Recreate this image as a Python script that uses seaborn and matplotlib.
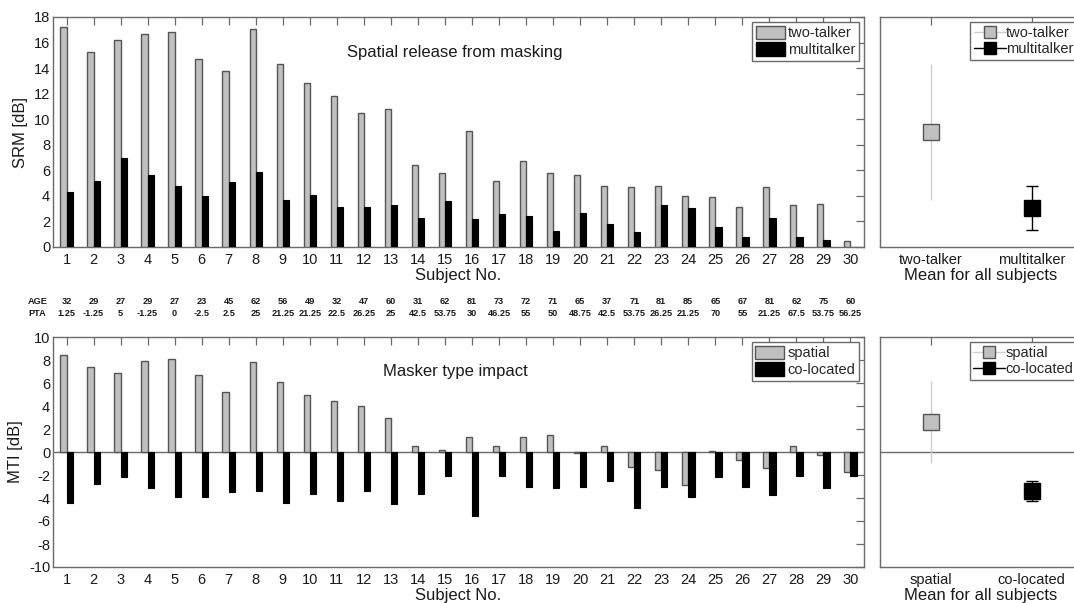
import numpy as np
import pandas as pd
import matplotlib
matplotlib.use("Agg")
import matplotlib.pyplot as plt
from matplotlib.patches import Patch
from matplotlib.lines import Line2D
from matplotlib.transforms import blended_transform_factory
import seaborn as sns

# ---- data -------------------------------------------------------------
subjects = list(range(1, 31))

srm_two_talker = [17.2, 15.3, 16.2, 16.7, 16.8, 14.7, 13.8, 17.1, 14.3, 12.8,
                  11.8, 10.5, 10.8, 6.4, 5.8, 9.1, 5.2, 6.7, 5.8, 5.6,
                  4.8, 4.7, 4.8, 4.0, 3.9, 3.1, 4.7, 3.3, 3.4, 0.5]
srm_multitalker = [4.3, 5.2, 7.0, 5.6, 4.8, 4.0, 5.1, 5.9, 3.7, 4.1,
                   3.1, 3.1, 3.3, 2.3, 3.6, 2.2, 2.55, 2.4, 1.25, 2.65,
                   1.8, 1.15, 3.3, 3.05, 1.55, 0.75, 2.3, 0.75, 0.55, 0.0]

mti_spatial = [8.4, 7.4, 6.9, 7.9, 8.1, 6.7, 5.2, 7.85, 6.1, 5.0,
               4.4, 4.0, 3.0, 0.5, 0.15, 1.3, 0.55, 1.3, 1.5, -0.05,
               0.5, -1.3, -1.6, -2.9, 0.1, -0.7, -1.35, 0.5, -0.25, -1.7]
mti_colocated = [-4.45, -2.75, -2.2, -3.15, -3.9, -3.95, -3.45, -3.35, -4.45, -3.65,
                 -4.25, -3.35, -4.55, -3.65, -2.05, -5.6, -2.1, -3.05, -3.15, -3.05,
                 -2.55, -4.85, -3.05, -3.95, -2.2, -3.05, -3.75, -2.1, -3.15, -2.05]

age = [32, 29, 27, 29, 27, 23, 45, 62, 56, 49, 32, 47, 60, 31, 62,
       81, 73, 72, 71, 65, 37, 71, 81, 85, 65, 67, 81, 62, 75, 60]
pta = [1.25, -1.25, 5, -1.25, 0, -2.5, 2.5, 25, 21.25, 21.25, 22.5, 26.25, 25, 42.5, 53.75,
       30, 46.25, 55, 50, 48.75, 42.5, 53.75, 26.25, 21.25, 70, 55, 21.25, 67.5, 53.75, 56.25]

srm_groups = ["two-talker", "multitalker"]
srm_means = [9.0, 3.05]
srm_sd = [5.3, 1.73]

mti_groups = ["spatial", "co-located"]
mti_means = [2.6, -3.38]
mti_sd = [3.55, 0.87]

# ---- style ------------------------------------------------------------
sns.set_style("white")
plt.rcParams["font.family"] = ["Liberation Sans", "DejaVu Sans"]
plt.rcParams["axes.unicode_minus"] = False

GRAY = "#c0c0c0"
EDGE = "#555555"
SPINE = "#6a6a6a"
TXT = "#1a1a1a"

W, H = 1074, 603
fig = plt.figure(figsize=(W / 100, H / 100), dpi=100)


def box(x0, y0, x1, y1):
    return [x0 / W, 1 - y1 / H, (x1 - x0) / W, (y1 - y0) / H]


ax_srm = fig.add_axes(box(53, 17, 864, 247))
ax_srm_m = fig.add_axes(box(880, 17, 1082, 247))
ax_mti = fig.add_axes(box(53, 337, 864, 567))
ax_mti_m = fig.add_axes(box(880, 337, 1082, 567))


def style_axes(ax):
    for s in ax.spines.values():
        s.set_color(SPINE)
        s.set_linewidth(1.0)
        s.set_visible(True)
    ax.tick_params(direction="in", top=True, right=True, length=6, width=0.9,
                   color=SPINE, labelsize=10.5, labelcolor=TXT)
    ax.tick_params(axis="x", pad=4)
    ax.tick_params(axis="y", pad=2)


def subject_bars(ax, a, b, names, ycol):
    df = pd.DataFrame({
        "subject": subjects * 2,
        ycol: list(a) + list(b),
        "group": [names[0]] * len(a) + [names[1]] * len(b),
    })
    sns.barplot(data=df, x="subject", y=ycol, hue="group", hue_order=names,
                palette={names[0]: GRAY, names[1]: "black"}, width=0.46,
                errorbar=None, legend=False, saturation=1, ax=ax, zorder=3)
    n = len(a)
    for i, p in enumerate(ax.patches):
        if i < n:
            p.set_edgecolor(EDGE)
            p.set_linewidth(1.0)
        else:
            p.set_edgecolor("black")
            p.set_linewidth(0.8)
    ax.set_xlim(-0.5, len(subjects) - 0.5)
    ax.set_xticks(range(len(subjects)))
    ax.set_xticklabels([str(s) for s in subjects])
    ax.set_xlabel("Subject No.", fontsize=12, color=TXT, labelpad=1)
    ax.legend(handles=[Patch(facecolor=GRAY, edgecolor=EDGE, label=names[0]),
                       Patch(facecolor="black", edgecolor="black", label=names[1])],
              loc="upper right", fancybox=False, edgecolor=SPINE, framealpha=1,
              fontsize=10.5, handlelength=2.0, handleheight=1.0, handletextpad=0.2,
              borderpad=0.25, labelspacing=0.15, borderaxespad=0.35)
    style_axes(ax)


def mean_panel(ax, groups, means, sds, ylim, yticks):
    x = [1, 2]
    ax.errorbar(x[0], means[0], yerr=sds[0], fmt="s", ms=11, mfc=GRAY, mec=EDGE,
                mew=1.0, ecolor="#cfcfcf", elinewidth=1.0, capsize=0, zorder=3)
    ax.errorbar(x[1], means[1], yerr=sds[1], fmt="s", ms=11, mfc="black", mec="black",
                ecolor="black", elinewidth=1.0, capsize=4, capthick=1.0, zorder=3)
    ax.set_xlim(0.5, 2.5)
    ax.set_ylim(*ylim)
    ax.set_xticks(x)
    ax.set_xticklabels(groups)
    ax.set_yticks(yticks)
    ax.set_yticklabels([])
    ax.set_xlabel("Mean for all subjects", fontsize=12, color=TXT, labelpad=1)
    handles = [
        Line2D([], [], color="#cfcfcf", lw=1, marker="s", ms=8.5, mfc=GRAY, mec=EDGE, label=groups[0]),
        Line2D([], [], color="black", lw=1, marker="s", ms=8.5, mfc="black", mec="black", label=groups[1]),
    ]
    ax.legend(handles=handles, loc="upper right", fancybox=False, edgecolor=SPINE,
              framealpha=1, fontsize=10.5, handlelength=2.2, handletextpad=0.0,
              borderpad=0.25, labelspacing=0.15, borderaxespad=0.35)
    style_axes(ax)


# ---- top row: spatial release from masking ----------------------------
subject_bars(ax_srm, srm_two_talker, srm_multitalker, srm_groups, "SRM")
ax_srm.set_ylim(0, 18)
ax_srm.set_yticks(range(0, 19, 2))
ax_srm.set_ylabel("SRM [dB]", fontsize=12, color=TXT, labelpad=4)
ax_srm.text(10.38, 15.2, "Spatial release from masking", fontsize=12, color=TXT,
            ha="left", va="center")
mean_panel(ax_srm_m, srm_groups, srm_means, srm_sd, (0, 18), range(0, 19, 2))

# ---- bottom row: masker type impact -----------------------------------
ax_mti.axhline(0, color=SPINE, lw=1.0, zorder=1)
subject_bars(ax_mti, mti_spatial, mti_colocated, mti_groups, "MTI")
ax_mti.set_ylim(-10, 10)
ax_mti.set_yticks(range(-10, 11, 2))
ax_mti.set_ylabel("MTI [dB]", fontsize=12, color=TXT, labelpad=4)
ax_mti.text(11.7, 7.0, "Masker type impact", fontsize=12, color=TXT,
            ha="left", va="center")
ax_mti_m.axhline(0, color=SPINE, lw=1.0, zorder=1)
mean_panel(ax_mti_m, mti_groups, mti_means, mti_sd, (-10, 10), range(-10, 11, 2))

# ---- subject age and PTA rows between the panels ----------------------
row_font = dict(family=["Liberation Sans Narrow", "Liberation Sans", "DejaVu Sans"],
                fontsize=6.6, fontweight="bold", color=TXT)
tr = blended_transform_factory(ax_srm.transData, fig.transFigure)
y_age, y_pta = 1 - 301 / H, 1 - 314 / H
fig.text(28 / W, y_age, "AGE", ha="left", va="center", **row_font)
fig.text(28 / W, y_pta, "PTA", ha="left", va="center", **row_font)
for i, (a, p) in enumerate(zip(age, pta)):
    ax_srm.text(i, y_age, f"{a:g}", transform=tr, ha="center", va="center", **row_font)
    ax_srm.text(i, y_pta, f"{p:g}", transform=tr, ha="center", va="center", **row_font)

fig.savefig("out.png", dpi=100)
